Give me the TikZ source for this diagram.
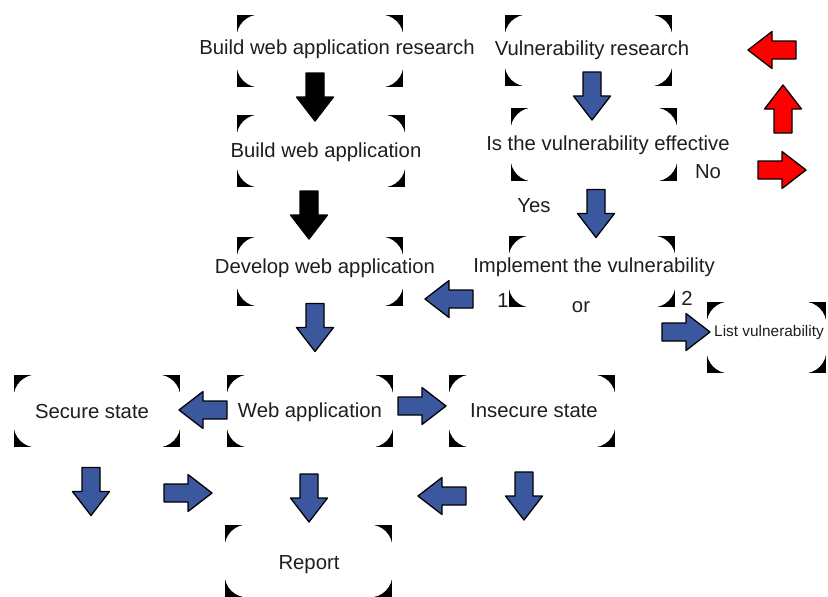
\documentclass[tikz,border=0pt]{standalone}
\usepackage{fontspec}
\setmainfont{Liberation Sans}
\definecolor{arrowblue}{RGB}{59,87,157}
\definecolor{textgray}{RGB}{30,30,30}
\begin{document}
\begin{tikzpicture}[x=1pt,y=-1pt,
  txt/.style={font=\fontsize{20.3}{24}\selectfont, text=textgray, inner sep=0pt, anchor=base},
  smalltxt/.style={font=\fontsize{15.4}{18}\selectfont, text=textgray, inner sep=0pt, anchor=base},
  cbox/.style={minimum width=166pt, minimum height=72pt, inner sep=0pt, outer sep=0pt},
  pics/barrow/.style={code={
    \filldraw[pic actions, draw=black, line width=1.3pt, line join=round]
      (-24,-9) -- (0,-9) -- (0,-18.5) -- (24,0) -- (0,18.5) -- (0,9) -- (-24,9) -- cycle;}},
]
\useasboundingbox (0,0) rectangle (828,597);

% frames: only the rounded-off corners are inked
\node[cbox] (b1) at (320,51) {};
\node[cbox, minimum width=167pt, minimum height=71pt] (b2) at (588.5,50.5) {};
\node[cbox, minimum width=168pt] (b3) at (321,151) {};
\node[cbox, minimum height=73pt] (b4) at (594,144.5) {};
\node[cbox, minimum height=69pt] (b5) at (320,271.5) {};
\node[cbox, minimum height=71pt] (b6) at (592,271.5) {};
\node[cbox, minimum width=119pt, minimum height=71pt] (b7) at (766.5,337.5) {};
\node[cbox] (b8) at (97,411) {};
\node[cbox] (b9) at (310,411) {};
\node[cbox] (b10) at (532,411) {};
\node[cbox, minimum width=167pt] (b11) at (308.5,561) {};
\foreach \b in {b1,b2,b3,b4,b5,b6,b7,b8,b9,b10,b11}{
  \fill[black] (\b.north west) rectangle (\b.south east);
  \fill[white, rounded corners=23pt]
    ([xshift=-0.4pt,yshift=0.4pt]\b.north west) rectangle ([xshift=0.4pt,yshift=-0.4pt]\b.south east);
}

% box texts
\node[txt] (t1) at (337,54) {Build web application research};
\node[txt] (t2) at (592,55) {Vulnerability research};
\node[txt] (t3) at (326,157) {Build web application};
\node[txt] (t4) at (608,150) {Is the vulnerability effective};
\node[txt] (t5) at (325,273) {Develop web application};
\node[txt] (t6) at (594,272) {Implement the vulnerability};
\node[smalltxt] (t7) at (769,336) {List vulnerability};
\node[txt] (t8) at (92,418) {Secure state};
\node[txt] (t9) at (310,417) {Web application};
\node[txt] (t10) at (534,417) {Insecure state};
\node[txt] (t11) at (309,569) {Report};

% branch labels
\node[txt] (no) at (708,178) {No};
\node[txt] (yes) at (534,212) {Yes};
\node[txt] (or) at (581,312) {or};
\node[txt] (one) at (503,307) {1};
\node[txt] (two) at (687,305) {2};

% block arrows
\pic[fill=black, rotate=-90] at (315,97) {barrow};
\pic[fill=black, rotate=-90] at (309,215) {barrow};
\pic[fill=arrowblue, rotate=-90] at (592,96) {barrow};
\pic[fill=arrowblue, rotate=-90] at (596,213.5) {barrow};
\pic[fill=arrowblue, rotate=180] at (449,299) {barrow};
\pic[fill=arrowblue] at (686,332) {barrow};
\pic[fill=arrowblue, rotate=-90] at (315,327.5) {barrow};
\pic[fill=arrowblue, rotate=180] at (203,410) {barrow};
\pic[fill=arrowblue] at (422,406) {barrow};
\pic[fill=arrowblue, rotate=-90] at (91,491.5) {barrow};
\pic[fill=arrowblue] at (188,493) {barrow};
\pic[fill=arrowblue, rotate=-90] at (309,498) {barrow};
\pic[fill=arrowblue, rotate=180] at (442,496) {barrow};
\pic[fill=arrowblue, rotate=-90] at (524,496) {barrow};
\pic[fill=red, rotate=180] at (772,50) {barrow};
\pic[fill=red, rotate=90] at (783,109) {barrow};
\pic[fill=red] at (782,170) {barrow};
\end{tikzpicture}
\end{document}
